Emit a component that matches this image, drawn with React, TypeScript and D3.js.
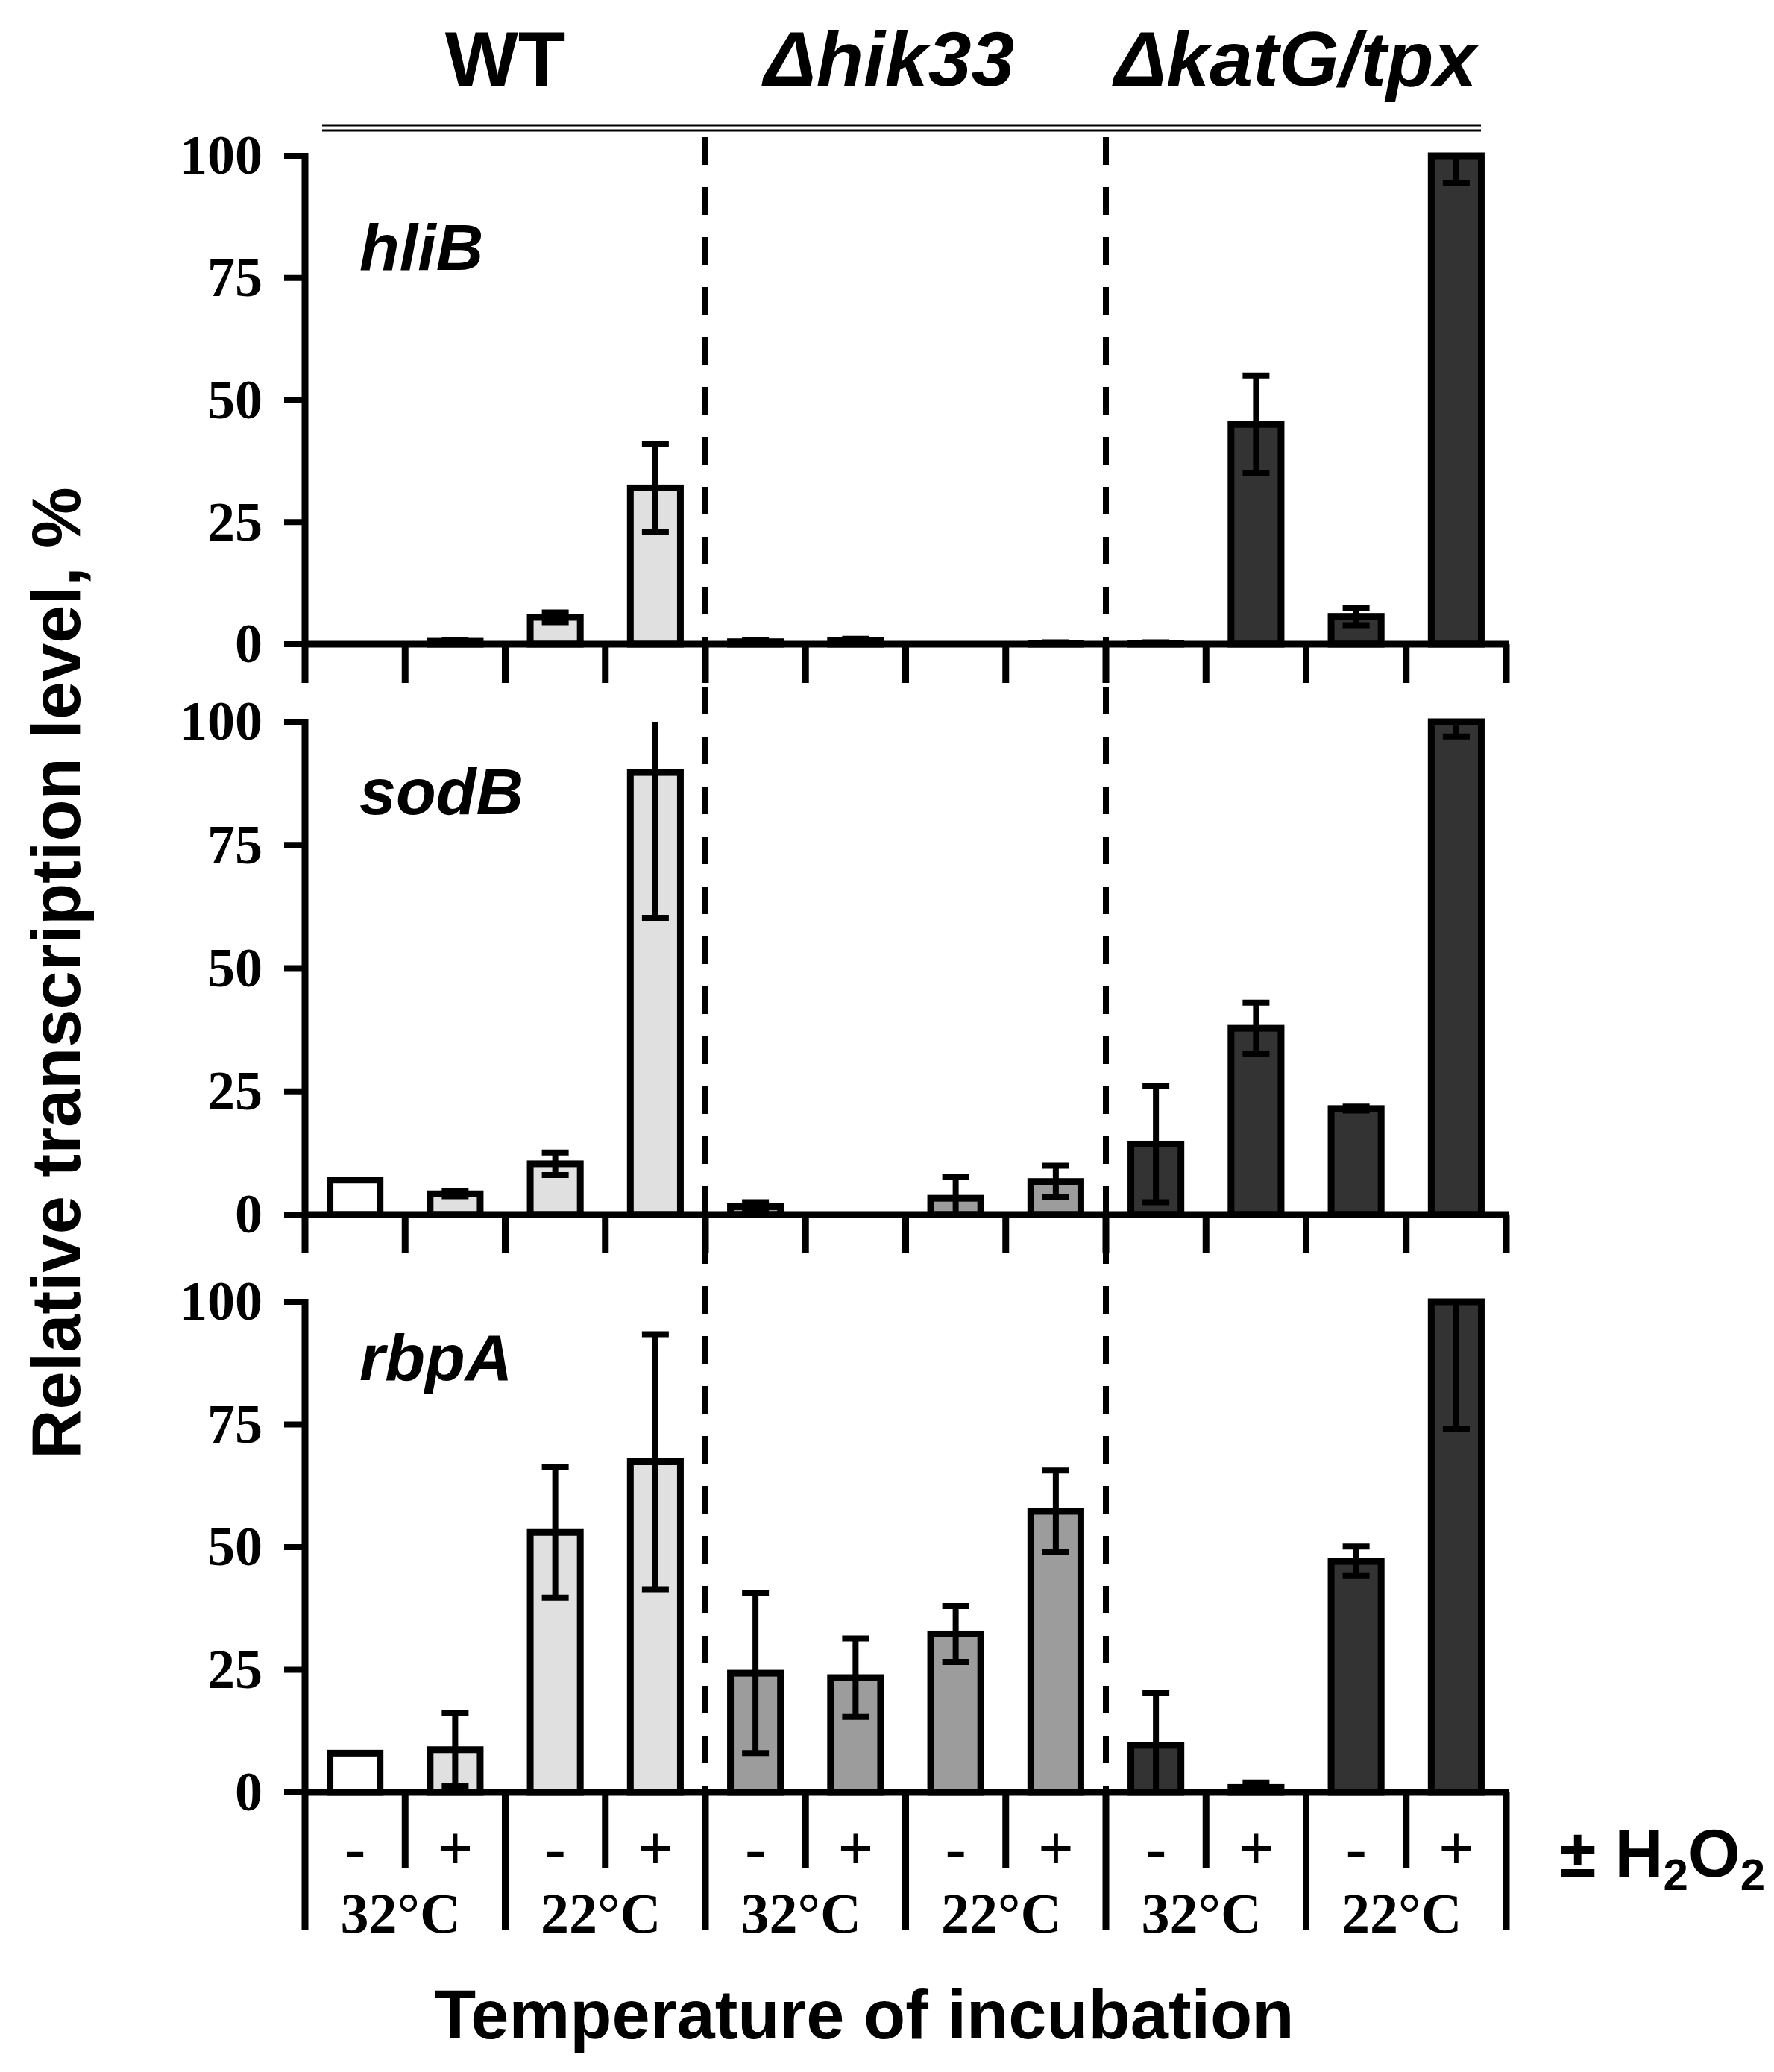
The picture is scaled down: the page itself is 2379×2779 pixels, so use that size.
import * as d3 from 'd3'

// conditions along the x axis: 3 strains x 2 temperatures x (-/+ H2O2)
const strains = ['WT', 'Δhik33', 'ΔkatG/tpx']
const strainItalic = [false, true, true]
const temps = ['32°C', '22°C', '32°C', '22°C', '32°C', '22°C']
const peroxide = ['-', '+', '-', '+', '-', '+', '-', '+', '-', '+', '-', '+']
const yTicks = [0, 25, 50, 75, 100]

const genes = ['hliB', 'sodB', 'rbpA']

// relative transcription level, % (mean and error)
const hliBMean = [0, 0.6, 5.5, 32, 0.5, 0.8, 0, 0.1, 0.1, 45, 5.7, 100]
const hliBErr = [0, 0.3, 1, 9, 0.3, 0.3, 0, 0.3, 0.3, 10, 1.8, 5.5]
const sodBMean = [7, 4.2, 10.3, 89.7, 1.6, 0, 3.3, 6.7, 14.3, 37.8, 21.5, 100]
const sodBErr = [0, 0.5, 2.3, 29.5, 0.9, 0, 4.3, 3.2, 11.8, 5.2, 0.4, 3]
const rbpAMean = [8, 8.7, 53, 67.4, 24.3, 23.4, 32.3, 57.3, 9.6, 1, 47.1, 100]
const rbpAErr = [0, 7.5, 13.3, 26, 16.3, 8, 5.7, 8.3, 10.6, 1, 3, 26]

const means = [hliBMean, sodBMean, rbpAMean]
const errs = [hliBErr, sodBErr, rbpAErr]

const strainFill = ['#e0e0e0', '#9c9c9c', '#333333']

const W = 2379
const H = 2779
const X0 = 409
const X1 = 2020
// per-panel pixel extent (top = 100 %, bottom = 0 %) and gene label height
const panelTop = [209, 968, 1746]
const panelBottom = [864, 1629, 2404]
const geneLabelOffset = [153, 124, 105]

const SERIF = '"Liberation Serif", "Times New Roman", serif'
const SANS = '"Liberation Sans", Arial, sans-serif'

export default function App() {
  const n = peroxide.length
  const x = d3
    .scaleBand<number>()
    .domain(d3.range(n))
    .range([X0, X1])
    .paddingInner(0.5)
    .paddingOuter(0.25)
  const step = x.step()
  const bw = x.bandwidth()
  const boundary = (k: number) => X0 + k * step
  const center = (i: number) => (x(i) ?? 0) + bw / 2
  const fillFor = (i: number) => (i === 0 ? '#ffffff' : strainFill[Math.floor(i / 4)])

  const lastBottom = panelBottom[panelBottom.length - 1]

  return (
    <svg width={W} height={H} style={{ position: 'absolute', left: 0, top: 0, background: '#fff' }}>
      {/* strain headers */}
      {strains.map((s, k) => (
        <text
          key={s}
          x={boundary(k * 4 + 2) + (k === 0 ? 0 : k === 1 ? -22 : -14)}
          y={115}
          textAnchor="middle"
          fontFamily={SANS}
          fontWeight="bold"
          fontStyle={strainItalic[k] ? 'italic' : 'normal'}
          fontSize={104}
        >
          {s}
        </text>
      ))}
      <line x1={432} x2={1986} y1={168} y2={168} stroke="#000" strokeWidth={3} />
      <line x1={432} x2={1986} y1={175} y2={175} stroke="#000" strokeWidth={3} />

      {genes.map((g, p) => {
        const y = d3.scaleLinear().domain([0, 100]).range([panelBottom[p], panelTop[p]]).clamp(true)
        const isLast = p === genes.length - 1
        return (
          <g key={g}>
            {/* bars */}
            {means[p].map((v, i) => (
              <rect
                key={'b' + i}
                x={x(i)}
                y={y(v)}
                width={bw}
                height={y(0) - y(v)}
                fill={fillFor(i)}
                stroke="#000"
                strokeWidth={9}
              />
            ))}
            {/* error bars */}
            {means[p].map((v, i) => {
              const e = errs[p][i]
              if (!e) return null
              const cx = center(i)
              const hi = v + e
              const lo = v - e
              return (
                <g key={'e' + i} stroke="#000" strokeWidth={8}>
                  <line x1={cx} x2={cx} y1={y(hi)} y2={y(lo)} />
                  {hi < 100 && <line x1={cx - 18} x2={cx + 18} y1={y(hi)} y2={y(hi)} />}
                  {lo > 0 && <line x1={cx - 18} x2={cx + 18} y1={y(lo)} y2={y(lo)} />}
                </g>
              )
            })}
            {/* y axis */}
            <line x1={X0} x2={X0} y1={y(100) - 4} y2={y(0)} stroke="#000" strokeWidth={9} />
            {yTicks.map((t) => (
              <g key={'t' + t}>
                <line x1={X0 - 28} x2={X0} y1={y(t)} y2={y(t)} stroke="#000" strokeWidth={8} />
                <text
                  x={352}
                  y={y(t)}
                  dy="0.33em"
                  textAnchor="end"
                  fontFamily={SERIF}
                  fontWeight="bold"
                  fontSize={74}
                >
                  {t}
                </text>
              </g>
            ))}
            {/* x axis and slot ticks */}
            <line x1={X0 - 4} x2={X1 + 4} y1={y(0)} y2={y(0)} stroke="#000" strokeWidth={9} />
            {d3.range(n + 1).map((k) => (
              <line
                key={'s' + k}
                x1={boundary(k)}
                x2={boundary(k)}
                y1={y(0)}
                y2={isLast ? (k % 2 === 0 ? 2589 : 2506) : y(0) + 52}
                stroke="#000"
                strokeWidth={9}
              />
            ))}
            <text
              x={482}
              y={panelTop[p] + geneLabelOffset[p]}
              fontFamily={SANS}
              fontWeight="bold"
              fontStyle="italic"
              fontSize={88}
            >
              {g}
            </text>
          </g>
        )
      })}

      {/* strain separators */}
      {[4, 8].map((k) => (
        <line
          key={'d' + k}
          x1={boundary(k)}
          x2={boundary(k)}
          y1={184}
          y2={lastBottom}
          stroke="#000"
          strokeWidth={8}
          strokeDasharray="37 30"
        />
      ))}

      {/* condition table */}
      {peroxide.map((s, i) => (
        <text
          key={'p' + i}
          x={center(i)}
          y={2507}
          textAnchor="middle"
          fontFamily={SERIF}
          fontWeight="bold"
          fontSize={84}
        >
          {s}
        </text>
      ))}
      {temps.map((t, j) => (
        <text
          key={'c' + j}
          x={boundary(j * 2 + 1) - 6}
          y={2592}
          textAnchor="middle"
          fontFamily={SERIF}
          fontWeight="bold"
          fontSize={76}
        >
          {t}
        </text>
      ))}
      <text x={2091} y={2517} fontFamily={SANS} fontWeight="bold" fontSize={90}>
        ± H<tspan fontSize={60} dy={18}>2</tspan>
        <tspan dy={-18}>O</tspan>
        <tspan fontSize={60} dy={18}>2</tspan>
      </text>

      {/* axis titles */}
      <text x={582} y={2734} fontFamily={SANS} fontWeight="bold" fontSize={92}>
        Temperature of incubation
      </text>
      <text
        transform={`translate(107, 1305) rotate(-90)`}
        textAnchor="middle"
        fontFamily={SANS}
        fontWeight="bold"
        fontSize={92}
      >
        Relative transcription level, %
      </text>
    </svg>
  )
}
